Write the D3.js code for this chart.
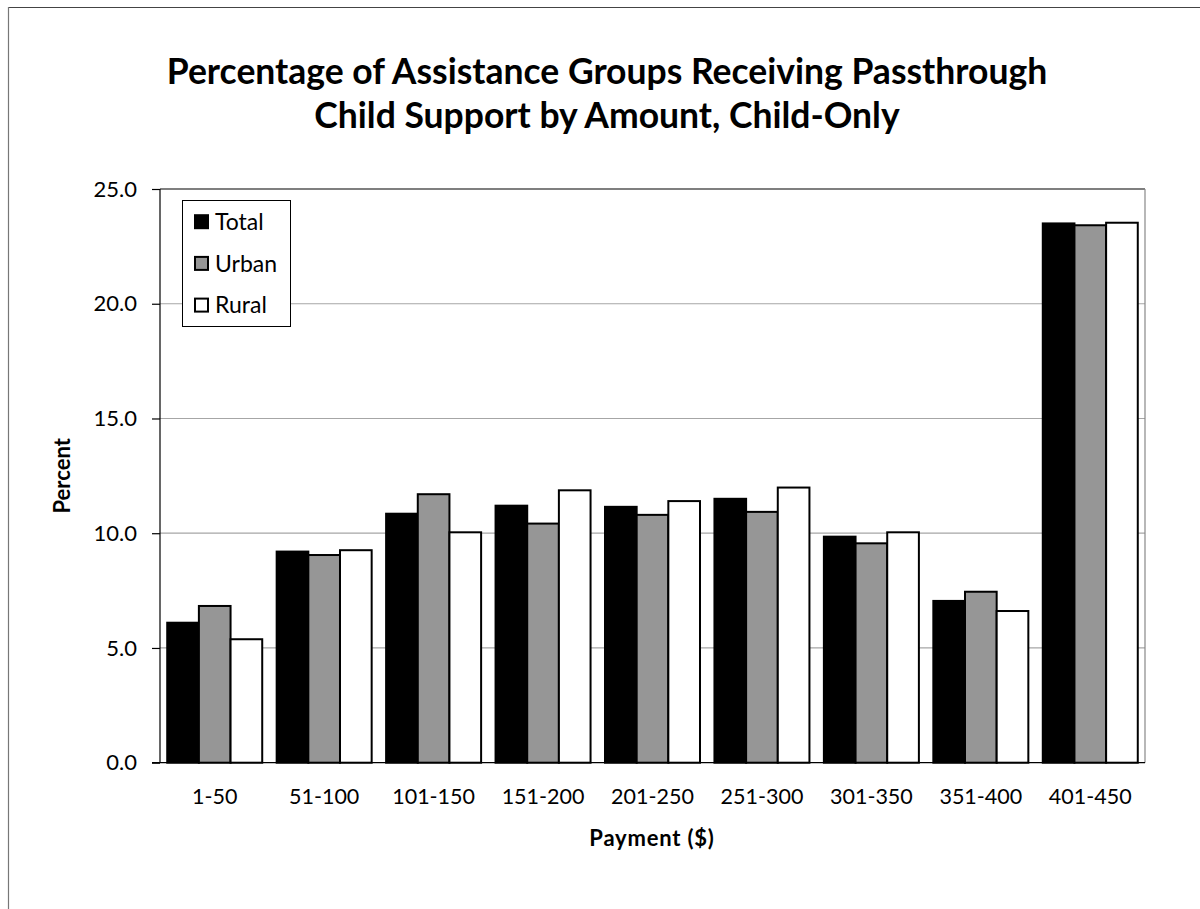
<!DOCTYPE html>
<html>
<head>
<meta charset="utf-8">
<script src="https://cdn.jsdelivr.net/npm/d3@7"></script>
<style>
  html, body { margin: 0; padding: 0; background: #fff; }
  svg { display: block; }
  text { font-family: Lato, "Open Sans", sans-serif; fill: #000; }
</style>
</head>
<body>
<svg id="chart" width="1200" height="909"></svg>
<script>
const categories = ["1-50", "51-100", "101-150", "151-200", "201-250", "251-300", "301-350", "351-400", "401-450"];
const seriesNames = ["Total", "Urban", "Rural"];
const totalValues = [6.1, 9.2, 10.85, 11.2, 11.15, 11.5, 9.85, 7.05, 23.5];
const urbanValues = [6.83, 9.05, 11.7, 10.42, 10.8, 10.93, 9.56, 7.45, 23.42];
const ruralValues = [5.38, 9.26, 10.04, 11.87, 11.4, 11.99, 10.04, 6.61, 23.53];
const yTicks = [0, 5, 10, 15, 20, 25];
const titleLines = ["Percentage of Assistance Groups Receiving Passthrough", "Child Support by Amount, Child-Only"];
const xTitle = "Payment ($)";
const yTitle = "Percent";
const colors = ["#000000", "#969696", "#ffffff"];

const seriesValues = [totalValues, urbanValues, ruralValues];
const rows = categories.map((c, i) => ({cat: c, vals: seriesNames.map((s, j) => ({series: s, idx: j, v: seriesValues[j][i]}))}));

const svg = d3.select("#chart");
const plot = {left: 160, right: 1145, top: 189, bottom: 762.7};

// outer border (top and left visible)
svg.append("line").attr("x1", 8).attr("x2", 1200).attr("y1", 7.5).attr("y2", 7.5).attr("stroke", "#444").attr("stroke-width", 1.2);
svg.append("line").attr("x1", 8.5).attr("x2", 8.5).attr("y1", 7).attr("y2", 909).attr("stroke", "#777").attr("stroke-width", 1.2);

const x0 = d3.scaleBand().domain(categories).range([plot.left, plot.right]).paddingInner(0.132).paddingOuter(0.066);
const x1 = d3.scaleBand().domain(seriesNames).range([0, x0.bandwidth()]).padding(0);
const y = d3.scaleLinear().domain([0, 25]).range([plot.bottom, plot.top]);

// gridlines
svg.append("g").selectAll("line").data(yTicks.filter(t => t > 0 && t < 25)).join("line")
  .attr("x1", plot.left).attr("x2", plot.right)
  .attr("y1", d => y(d)).attr("y2", d => y(d))
  .attr("stroke", "#a6a6a6").attr("stroke-width", 1.2);

// plot border top and right
svg.append("line").attr("x1", plot.left).attr("x2", plot.right).attr("y1", y(25)).attr("y2", y(25)).attr("stroke", "#000").attr("stroke-width", 1.2);
svg.append("line").attr("x1", plot.right).attr("x2", plot.right).attr("y1", plot.top).attr("y2", plot.bottom).attr("stroke", "#888").attr("stroke-width", 1.2);

// bars
const groups = svg.append("g").selectAll("g").data(rows).join("g")
  .attr("transform", d => `translate(${x0(d.cat)},0)`);
groups.selectAll("rect").data(d => d.vals).join("rect")
  .attr("x", d => x1(d.series))
  .attr("y", d => y(d.v))
  .attr("width", x1.bandwidth())
  .attr("height", d => y(0) - y(d.v))
  .attr("fill", d => colors[d.idx])
  .attr("stroke", "#000")
  .attr("stroke-width", 2);

// y axis
const yAxis = d3.axisLeft(y).tickValues(yTicks).tickFormat(d3.format(".1f")).tickSize(8).tickPadding(15);
const yg = svg.append("g").attr("transform", `translate(${plot.left},0)`).call(yAxis);
yg.select(".domain").attr("stroke", "#000").attr("stroke-width", 1.2).attr("d", `M0,${plot.top}V${plot.bottom}`);
yg.selectAll(".tick line").attr("stroke", "#000").attr("stroke-width", 1.2);
yg.selectAll(".tick text").attr("font-size", 22).attr("font-family", "Lato, sans-serif").attr("fill", "#000");

// x axis
const xAxis = d3.axisBottom(x0).tickSize(0).tickPadding(26);
const xg = svg.append("g").attr("transform", `translate(0,${plot.bottom})`).call(xAxis);
xg.select(".domain").attr("stroke", "#000").attr("stroke-width", 1.2).attr("d", `M${plot.left - 8},0H${plot.right}`);
xg.selectAll(".tick text").attr("font-size", 21.5).attr("font-family", "Lato, sans-serif").attr("fill", "#000");

// titles
svg.append("text").attr("text-anchor", "middle").attr("font-weight", "bold").attr("font-size", 35.5)
  .selectAll("tspan").data(titleLines).join("tspan")
  .attr("x", 607).attr("y", (d, i) => 84 + i * 44).text(d => d);

svg.append("text").attr("x", 652).attr("y", 838).attr("dy", "0.35em").attr("text-anchor", "middle")
  .attr("font-weight", "bold").attr("font-size", 22).attr("letter-spacing", 0.8).text(xTitle);
svg.append("text").attr("transform", `translate(62,${(plot.top + plot.bottom) / 2}) rotate(-90)`)
  .attr("dy", "0.35em").attr("text-anchor", "middle").attr("font-weight", "bold").attr("font-size", 22).text(yTitle);

// legend
const lg = svg.append("g");
lg.append("rect").attr("x", 182.5).attr("y", 200.5).attr("width", 108).attr("height", 126)
  .attr("fill", "#fff").attr("stroke", "#000").attr("stroke-width", 1);
const items = lg.selectAll("g.item").data(seriesNames).join("g").attr("class", "item")
  .attr("transform", (d, i) => `translate(194,${221.7 + i * 41.7})`);
items.append("rect").attr("x", 1).attr("y", -6.5).attr("width", 13).attr("height", 13)
  .attr("fill", (d, i) => colors[i]).attr("stroke", "#000").attr("stroke-width", 2);
items.append("text").attr("x", 21).attr("dy", "0.36em").attr("font-size", 23).text(d => d);
</script>
</body>
</html>
